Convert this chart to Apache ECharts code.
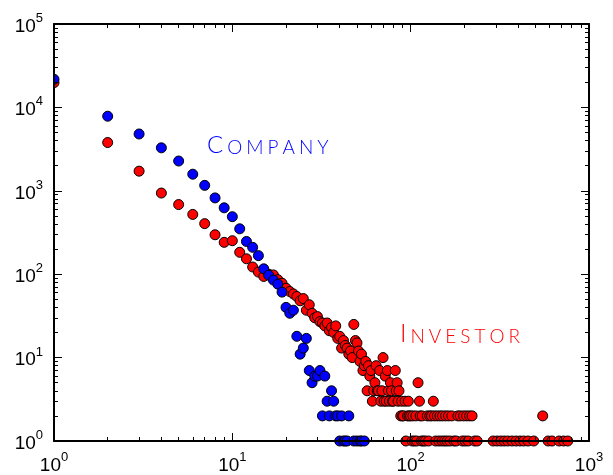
<!DOCTYPE html>
<html>
<head>
<meta charset="utf-8">
<script src="https://cdn.jsdelivr.net/npm/echarts@6/dist/echarts.min.js"></script>
<style>html,body{margin:0;padding:0;background:#fff}#c{width:613px;height:475px}</style>
</head>
<body>
<div id="c"></div>
<script>
// Company (blue) degree distribution
const companyX = [1,2,3,4,5,6,7,8,9,10,11,12,13,14,15,16,17,18,19,20,21,22,23,24,25,26,27,28,29,30,31,32,33,34,35,36,37,38,39,40,41,42,43,44,45,48,50,52,53,55];
const companyY = [21700,7840,4800,3275,2275,1581,1162,822,625,489,350,247,210,167,116,97,85,76,61,40,34,37,18,11,13,17,7,5,6,6,7,2,6,3,2,4,3,2,2,1,2,1,1,1,2,1,1,1,1,1];
// Investor (red) degree distribution
const investorX = [1,2,3,4,5,6,7,8,9,10,11,12,13,14,15,16,17,18,19,20,21,22,23,24,25,26,27,28,29,30,31,32,33,34,35,36,37,38,39,40,41,42,43,44,45,46,47,48,49,50,51,52,53,54,55,56,57,58,59,60,61,62,63,64,65,66,67,68,69,70,71,72,73,74,75,76,77,78,79,80,82,83,84,85,86,88,89,90,91,93,94,96,97,98,100,102,103,105,107,108,110,112,113,115,116,118,121,124,126,128,131,134,136,138,141,144,146,150,151,155,157,160,163,166,170,175,180,184,190,195,198,202,206,210,214,221,228,236,290,305,320,335,350,370,390,410,430,455,490,550,590,620,680,720,760];
const investorY = [19800,3790,1720,940,684,521,404,297,241,252,183,153,122,106,94,100,98,86,78,68,62,58,54,48,51,37,43,34,30,31,27,26,24,26,21,23,20,24,17,18,13,16,14,13,11,12,10,25,16,15,12,9,11,7,8,9,4,8,6,7,3,4,5,8,4,4,7,3,4,10,3,6,3,7,4,3,5,4,3,3,7,4,5,3,4,2,3,2,2,3,1,2,3,2,2,1,2,1,2,1,5,3,2,1,2,1,1,2,1,2,2,3,2,1,2,1,2,1,2,1,2,1,2,1,2,1,1,2,2,1,2,1,2,1,2,2,1,1,1,1,1,1,1,1,1,1,1,1,1,2,1,1,1,1,1];
// Axis ranges and tick values
const xMin = 1, xMax = 1000;
const yMin = 1, yMax = 100000;
const xMinorTicks = [2,3,4,5,6,7,8,9,20,30,40,50,60,70,80,90,200,300,400,500,600,700,800,900];
const yMinorTicks = [2,3,4,5,6,7,8,9,20,30,40,50,60,70,80,90,200,300,400,500,600,700,800,900,2000,3000,4000,5000,6000,7000,8000,9000,20000,30000,40000,50000,60000,70000,80000,90000];
const labelCompany = 'Company';
const labelInvestor = 'Investor';

const zip = (xs, ys) => xs.map((x, i) => [x, ys[i]]);

const labelRich = {
  b: {fontSize: 19, fontFamily: 'Liberation Sans', color: '#000', lineHeight: 24, verticalAlign: 'bottom'},
  e: {fontSize: 13, fontFamily: 'Liberation Sans', color: '#000', lineHeight: 13, verticalAlign: 'top'}
};
const powFmt = v => '{b|10}{e|' + Math.round(Math.log10(v)) + '}';

function majorAxis(pos, min, max, showLabel, margin) {
  return {
    type: 'log', logBase: 10, min: min, max: max, position: pos, z: 10,
    axisLine: {show: true, lineStyle: {color: '#000', width: 2}},
    axisTick: {show: true, inside: true, length: 8, lineStyle: {color: '#000', width: 1}},
    axisLabel: {show: showLabel, formatter: powFmt, rich: labelRich, margin: margin},
    splitLine: {show: false}, minorTick: {show: false}
  };
}
function minorAxis(pos, min, max, ticks) {
  return {
    type: 'log', logBase: 10, min: min, max: max, position: pos, z: 10,
    axisLine: {show: false},
    axisTick: {show: true, inside: true, length: 4, customValues: ticks, lineStyle: {color: '#000', width: 1}},
    axisLabel: {show: false},
    splitLine: {show: false}
  };
}

function smallCaps(word, color, big, small, gap) {
  const letters = word.toUpperCase().split('');
  const text = letters.map((ch, i) => (i === 0 ? '{c|' : '{s|') + ch + '}').join('');
  return {
    text: text,
    fill: color,
    rich: {
      c: {fontSize: big, fontFamily: 'Lato', fontWeight: 300, fill: color, lineHeight: big + 4, verticalAlign: 'bottom', padding: [0, gap, 0, 0]},
      s: {fontSize: small, fontFamily: 'Lato', fontWeight: 300, fill: color, lineHeight: small + 3, verticalAlign: 'bottom', padding: [0, gap, 0, 0]}
    }
  };
}

const chart = echarts.init(document.getElementById('c'), null, {renderer: 'canvas'});
chart.setOption({
  animation: false,
  backgroundColor: '#fff',
  grid: {left: 54, right: 24, top: 24, bottom: 29, containLabel: false},
  xAxis: [
    majorAxis('bottom', xMin, xMax, true, 10),
    minorAxis('bottom', xMin, xMax, xMinorTicks),
    majorAxis('top', xMin, xMax, false, 10),
    minorAxis('top', xMin, xMax, xMinorTicks)
  ],
  yAxis: [
    majorAxis('left', yMin, yMax, true, 11),
    minorAxis('left', yMin, yMax, yMinorTicks),
    majorAxis('right', yMin, yMax, false, 10),
    minorAxis('right', yMin, yMax, yMinorTicks)
  ],
  graphic: [
    {type: 'rect', left: 0, top: 447, shape: {width: 613, height: 28}, style: {fill: '#fff'}, z: 5, silent: true},
    {type: 'rect', left: 0, top: 0, shape: {width: 53, height: 475}, style: {fill: '#fff'}, z: 5, silent: true},
    {type: 'text', left: 207, top: 133, z: 20, style: smallCaps(labelCompany, '#0000ff', 24, 19, 4)},
    {type: 'text', left: 400, top: 321, z: 20, style: smallCaps(labelInvestor, '#ff0000', 25, 19, 4)}
  ],
  series: [
    {
      name: labelInvestor, type: 'scatter', xAxisIndex: 0, yAxisIndex: 0,
      data: zip(investorX, investorY), symbol: 'circle', symbolSize: 10, z: 2,
      itemStyle: {color: '#ff0000', borderColor: '#000', borderWidth: 1, opacity: 1}
    },
    {
      name: labelCompany, type: 'scatter', xAxisIndex: 0, yAxisIndex: 0,
      data: zip(companyX, companyY), symbol: 'circle', symbolSize: 10, z: 2,
      itemStyle: {color: '#0000ff', borderColor: '#000', borderWidth: 1, opacity: 1}
    }
  ]
});
</script>
</body>
</html>
